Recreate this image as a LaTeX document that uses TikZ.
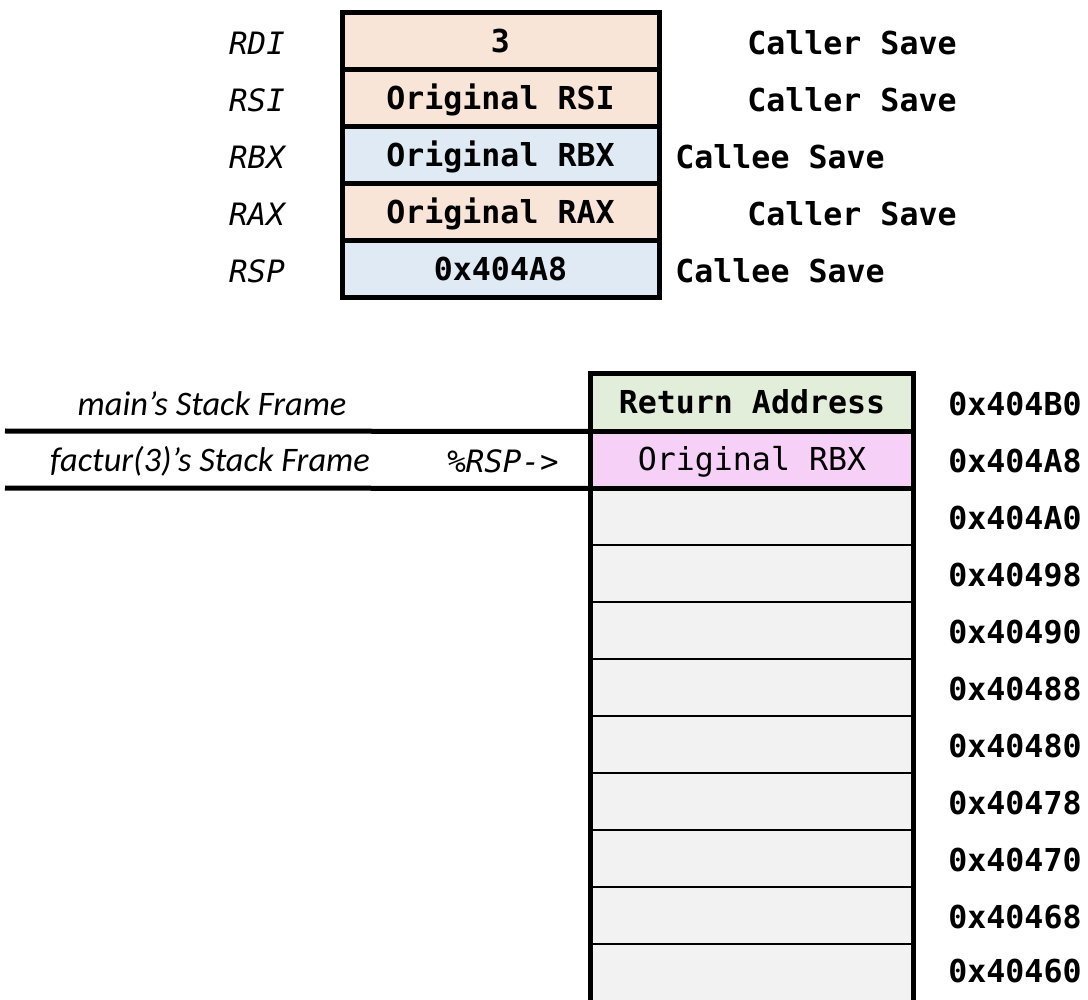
\documentclass[tikz,border=0pt]{standalone}
\usepackage{fontspec}
\setmonofont{DejaVu Sans Mono}
\newfontfamily\labelfont{Carlito}
\usetikzlibrary{positioning}

\definecolor{peach}{HTML}{F8E5D7}
\definecolor{paleblue}{HTML}{DFEAF5}
\definecolor{palegreen}{HTML}{E3EEDA}
\definecolor{palepink}{HTML}{F7D0F7}
\definecolor{palegray}{HTML}{F2F2F2}

\newcommand\monosize{\fontsize{15.8}{19}\selectfont\ttfamily}

\tikzset{
  boldline/.style={line width=2.5pt},
  thinline/.style={line width=1pt},
  capcentred/.style={text height=11.5pt, text depth=0pt},
  regcell/.style={draw, boldline, minimum width=158.5pt, minimum height=28.5pt,
    inner sep=0pt, capcentred, font=\monosize\bfseries},
  stackcell/.style={minimum width=161pt, minimum height=28.5pt, inner sep=0pt,
    capcentred, fill=palegray, font=\monosize},
  reglabel/.style={text height=11.2pt, text depth=0pt, inner sep=0pt,
    font=\fontsize{15.4}{19}\selectfont\ttfamily\itshape},
  framelabel/.style={font=\fontsize{17.2}{21}\selectfont\labelfont\itshape},
  savenote/.style={capcentred, inner sep=0pt, font=\monosize\bfseries},
  addr/.style={anchor=west, capcentred, inner sep=0pt, font=\monosize\bfseries},
}

\begin{document}
\begin{tikzpicture}[x=0.5pt, y=-0.5pt]
\useasboundingbox (0,0) rectangle (1088,1000);

% register file
\node[regcell, fill=peach]     (rdi) at (500.5,41.5)  {3};
\node[regcell, fill=peach]     (rsi) at (500.5,98.5)  {Original RSI};
\node[regcell, fill=paleblue]  (rbx) at (500.5,155.5) {Original RBX};
\node[regcell, fill=peach]     (rax) at (500.5,212.5) {Original RAX};
\node[regcell, fill=paleblue]  (rsp) at (500.5,269.5) {0x404A8};

\node[reglabel] (lrdi) at (257,43)  {RDI};
\node[reglabel] (lrsi) at (257,100) {RSI};
\node[reglabel] (lrbx) at (257,157) {RBX};
\node[reglabel] (lrax) at (257,214) {RAX};
\node[reglabel] (lrsp) at (257,271) {RSP};

\node[savenote, anchor=east] (srdi) at (957,43)  {Caller Save};
\node[savenote, anchor=east] (srsi) at (957,100) {Caller Save};
\node[savenote, anchor=west] (srbx) at (675,157) {Callee Save};
\node[savenote, anchor=east] (srax) at (957,214) {Caller Save};
\node[savenote, anchor=west] (srsp) at (675,271) {Callee Save};

% stack
\node[stackcell, fill=palegreen, font=\monosize\bfseries] (s0) at (752,402.5) {Return Address};
\node[stackcell, fill=palepink] (s1) at (752,459.5) {Original RBX};
\foreach \i in {2,...,10} {
  \node[stackcell] (s\i) at (752,{402.5+57*\i}) {};
}

% thin separators between empty slots
\foreach \i in {2,...,9} {
  \draw[thinline] (s\i.south west) -- (s\i.south east);
}
\draw[line width=0.6pt, black!40] (s10.south west) -- (s10.south east);
% outer walls of the stack
\draw[boldline] (s0.north west) -- (s10.south west);
\draw[boldline] (s0.north east) -- (s10.south east);
\draw[boldline] (s0.south west) -- (s0.south east);
\draw[boldline] (s1.south west) -- (s1.south east);
\draw[boldline] ([xshift=-1.25pt]s0.north west) -- ([xshift=1.25pt]s0.north east);

% frame boundaries
\coordinate (f0) at (5,431);
\coordinate (f1) at (5,488);
\draw[boldline] (f0) -- (s0.south west);
\draw[boldline] (f1) -- (s1.south west);

\node[framelabel] (mainf) at (212,404) {main’s Stack Frame};
\node[framelabel] (factf) at (210,461) {factur(3)’s Stack Frame};
\node[reglabel, anchor=east] (rspptr) at (559,461) {\%RSP->};

% addresses
\node[addr] (a0)  at (948,404) {0x404B0};
\node[addr] (a1)  at (948,461) {0x404A8};
\node[addr] (a2)  at (948,518) {0x404A0};
\node[addr] (a3)  at (948,575) {0x40498};
\node[addr] (a4)  at (948,632) {0x40490};
\node[addr] (a5)  at (948,689) {0x40488};
\node[addr] (a6)  at (948,746) {0x40480};
\node[addr] (a7)  at (948,803) {0x40478};
\node[addr] (a8)  at (948,860) {0x40470};
\node[addr] (a9)  at (948,917) {0x40468};
\node[addr] (a10) at (948,971) {0x40460};
\end{tikzpicture}
\end{document}
